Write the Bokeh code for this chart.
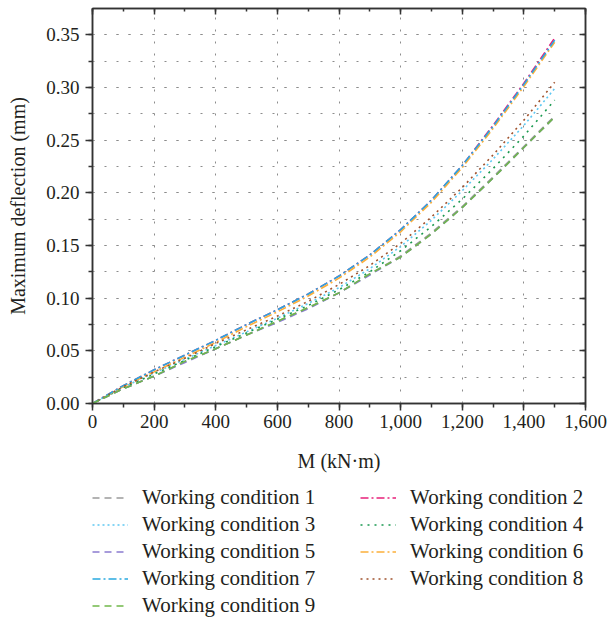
from bokeh.plotting import figure
from bokeh.layouts import column
from bokeh.models import (Range1d, LinearAxis, SingleIntervalTicker, NumeralTickFormatter,
                          Legend, LegendItem, CustomJSTickFormatter)
from bokeh.embed import file_html
from bokeh.resources import INLINE

# ---- data ----
M = [0, 100, 200, 300, 400, 500, 600, 700, 800, 900, 1000, 1100, 1200, 1300, 1400, 1500]
wc1 = [0, 0.014, 0.026, 0.040, 0.052, 0.065, 0.078, 0.091, 0.105, 0.123, 0.140, 0.162, 0.187, 0.215, 0.244, 0.273]
wc2 = [0, 0.017, 0.032, 0.046, 0.060, 0.075, 0.089, 0.104, 0.121, 0.141, 0.165, 0.193, 0.226, 0.264, 0.304, 0.347]
wc3 = [0, 0.0155, 0.029, 0.042, 0.055, 0.068, 0.081, 0.095, 0.110, 0.128, 0.149, 0.174, 0.202, 0.232, 0.264, 0.299]
wc4 = [0, 0.015, 0.028, 0.041, 0.054, 0.067, 0.080, 0.093, 0.108, 0.125, 0.145, 0.168, 0.194, 0.223, 0.254, 0.288]
wc5 = [0, 0.014, 0.026, 0.039, 0.052, 0.065, 0.077, 0.090, 0.105, 0.122, 0.139, 0.161, 0.186, 0.214, 0.243, 0.272]
wc6 = [0, 0.016, 0.030, 0.044, 0.058, 0.073, 0.087, 0.102, 0.119, 0.139, 0.163, 0.191, 0.224, 0.261, 0.301, 0.343]
wc7 = [0, 0.017, 0.032, 0.046, 0.060, 0.075, 0.089, 0.104, 0.121, 0.141, 0.165, 0.193, 0.226, 0.263, 0.303, 0.345]
wc8 = [0, 0.016, 0.030, 0.043, 0.057, 0.070, 0.083, 0.097, 0.113, 0.131, 0.152, 0.177, 0.205, 0.236, 0.269, 0.305]
wc9 = [0, 0.014, 0.026, 0.040, 0.052, 0.065, 0.078, 0.091, 0.105, 0.123, 0.139, 0.161, 0.186, 0.214, 0.243, 0.272]

names = ["Working condition %d" % i for i in range(1, 10)]
series = [wc1, wc2, wc3, wc4, wc5, wc6, wc7, wc8, wc9]
colors = ["#9a9a9a", "#e8207a", "#5ec8f2", "#1a9950", "#8a7bd0", "#fbb03b", "#29a9e0", "#a0522d", "#70b84a"]
dashes = ["7 5", "8 3 2 3", "2 3", "2 5", "7 5", "8 3 2 3", "8 3 2 3", "2 4", "7 5"]

FONT = "Liberation Serif"
TXT = "#231f20"

p = figure(width=610, height=480, output_backend="svg", toolbar_location=None,
           x_range=Range1d(0, 1600), y_range=Range1d(0, 0.375),
           min_border_left=92, min_border_right=25, min_border_top=8, min_border_bottom=77)
p.background_fill_color = "white"
p.border_fill_color = "white"
p.outline_line_color = "#333333"
p.outline_line_width = 1.5

xt = SingleIntervalTicker(interval=200, num_minor_ticks=2)
yt = SingleIntervalTicker(interval=0.05, num_minor_ticks=2)

p.xaxis.ticker = xt
p.yaxis.ticker = yt
p.xaxis.formatter = NumeralTickFormatter(format="0,0")
p.yaxis.formatter = NumeralTickFormatter(format="0.00")
for ax in (p.xaxis[0], p.yaxis[0]):
    ax.axis_line_color = "#333333"
    ax.axis_line_width = 1.5
    ax.major_tick_line_color = "#333333"
    ax.minor_tick_line_color = "#333333"
    ax.major_tick_line_width = 1.5
    ax.minor_tick_line_width = 1.5
    ax.major_tick_out = 7
    ax.major_tick_in = 0
    ax.minor_tick_out = 4
    ax.minor_tick_in = 0
    ax.major_label_text_font = FONT
    ax.major_label_text_font_size = "19px"
    ax.major_label_text_color = TXT
    ax.axis_label_text_font = FONT
    ax.axis_label_text_font_size = "20px"
    ax.axis_label_text_font_style = "normal"
    ax.axis_label_text_color = TXT
p.xaxis.axis_label = "M (kN·m)"
p.yaxis.axis_label = "Maximum deflection (mm)"
p.xaxis.major_label_standoff = 4
p.xaxis.axis_label_standoff = 19
p.yaxis.major_label_standoff = 6
p.yaxis.axis_label_standoff = 14

# mirrored axes (ticks pointing in, no labels)
blank = CustomJSTickFormatter(code="return ''")
top = LinearAxis(ticker=SingleIntervalTicker(interval=200, num_minor_ticks=2), formatter=blank,
                 major_label_text_font_size="0px", major_label_standoff=0)
right = LinearAxis(ticker=SingleIntervalTicker(interval=0.05, num_minor_ticks=2), formatter=blank,
                   major_label_text_font_size="0px", major_label_standoff=0)
for ax in (top, right):
    ax.axis_line_color = "#333333"
    ax.axis_line_width = 1.5
    ax.major_tick_line_color = "#333333"
    ax.minor_tick_line_color = "#333333"
    ax.major_tick_line_width = 1.5
    ax.minor_tick_line_width = 1.5
    ax.major_tick_in = 6
    ax.major_tick_out = 0
    ax.minor_tick_in = 3
    ax.minor_tick_out = 0
p.add_layout(top, "above")
p.add_layout(right, "right")

# grid
p.xgrid.ticker = xt
p.ygrid.ticker = yt
p.xgrid.grid_line_color = "#8c8c8c"
p.xgrid.grid_line_dash = "2 10"
p.xgrid.grid_line_width = 1
p.ygrid.grid_line_color = "#8c8c8c"
p.ygrid.grid_line_dash = "2 10"
p.ygrid.grid_line_width = 1
p.ygrid.minor_grid_line_color = "#8c8c8c"
p.ygrid.minor_grid_line_dash = "2 10"
p.ygrid.minor_grid_line_width = 1

for ys, c, d in zip(series, colors, dashes):
    p.line(M, ys, line_color=c, line_dash=d, line_width=1.6)

# ---- legend panel (same series, drawn outside its view so only the legend shows) ----
lf = figure(width=610, height=143, output_backend="svg", toolbar_location=None,
            x_range=Range1d(-1000, -900), y_range=Range1d(0, 0.375),
            min_border=0, min_border_left=0, min_border_right=0,
            min_border_top=0, min_border_bottom=0)
lf.axis.visible = False
lf.grid.visible = False
lf.outline_line_color = None
lf.background_fill_color = "white"
lf.border_fill_color = "white"

lrs = []
for ys, c, d in zip(series, colors, dashes):
    lrs.append(lf.line(M, ys, line_color=c, line_dash=d, line_width=1.6))

items = [LegendItem(label=names[i], renderers=[lrs[i]]) for i in range(9)]
legend = Legend(items=items, location=(0, 4), orientation="horizontal", ncols=2,
                glyph_width=36, glyph_height=27, label_height=27, label_standoff=14,
                label_width=218, spacing=0, padding=0, margin=0,
                label_text_font=FONT, label_text_font_size="21px", label_text_color=TXT,
                border_line_alpha=0, background_fill_alpha=0)
lf.add_layout(legend, "center")

open("out.html", "w").write(file_html(column(p, lf, spacing=0), INLINE))
